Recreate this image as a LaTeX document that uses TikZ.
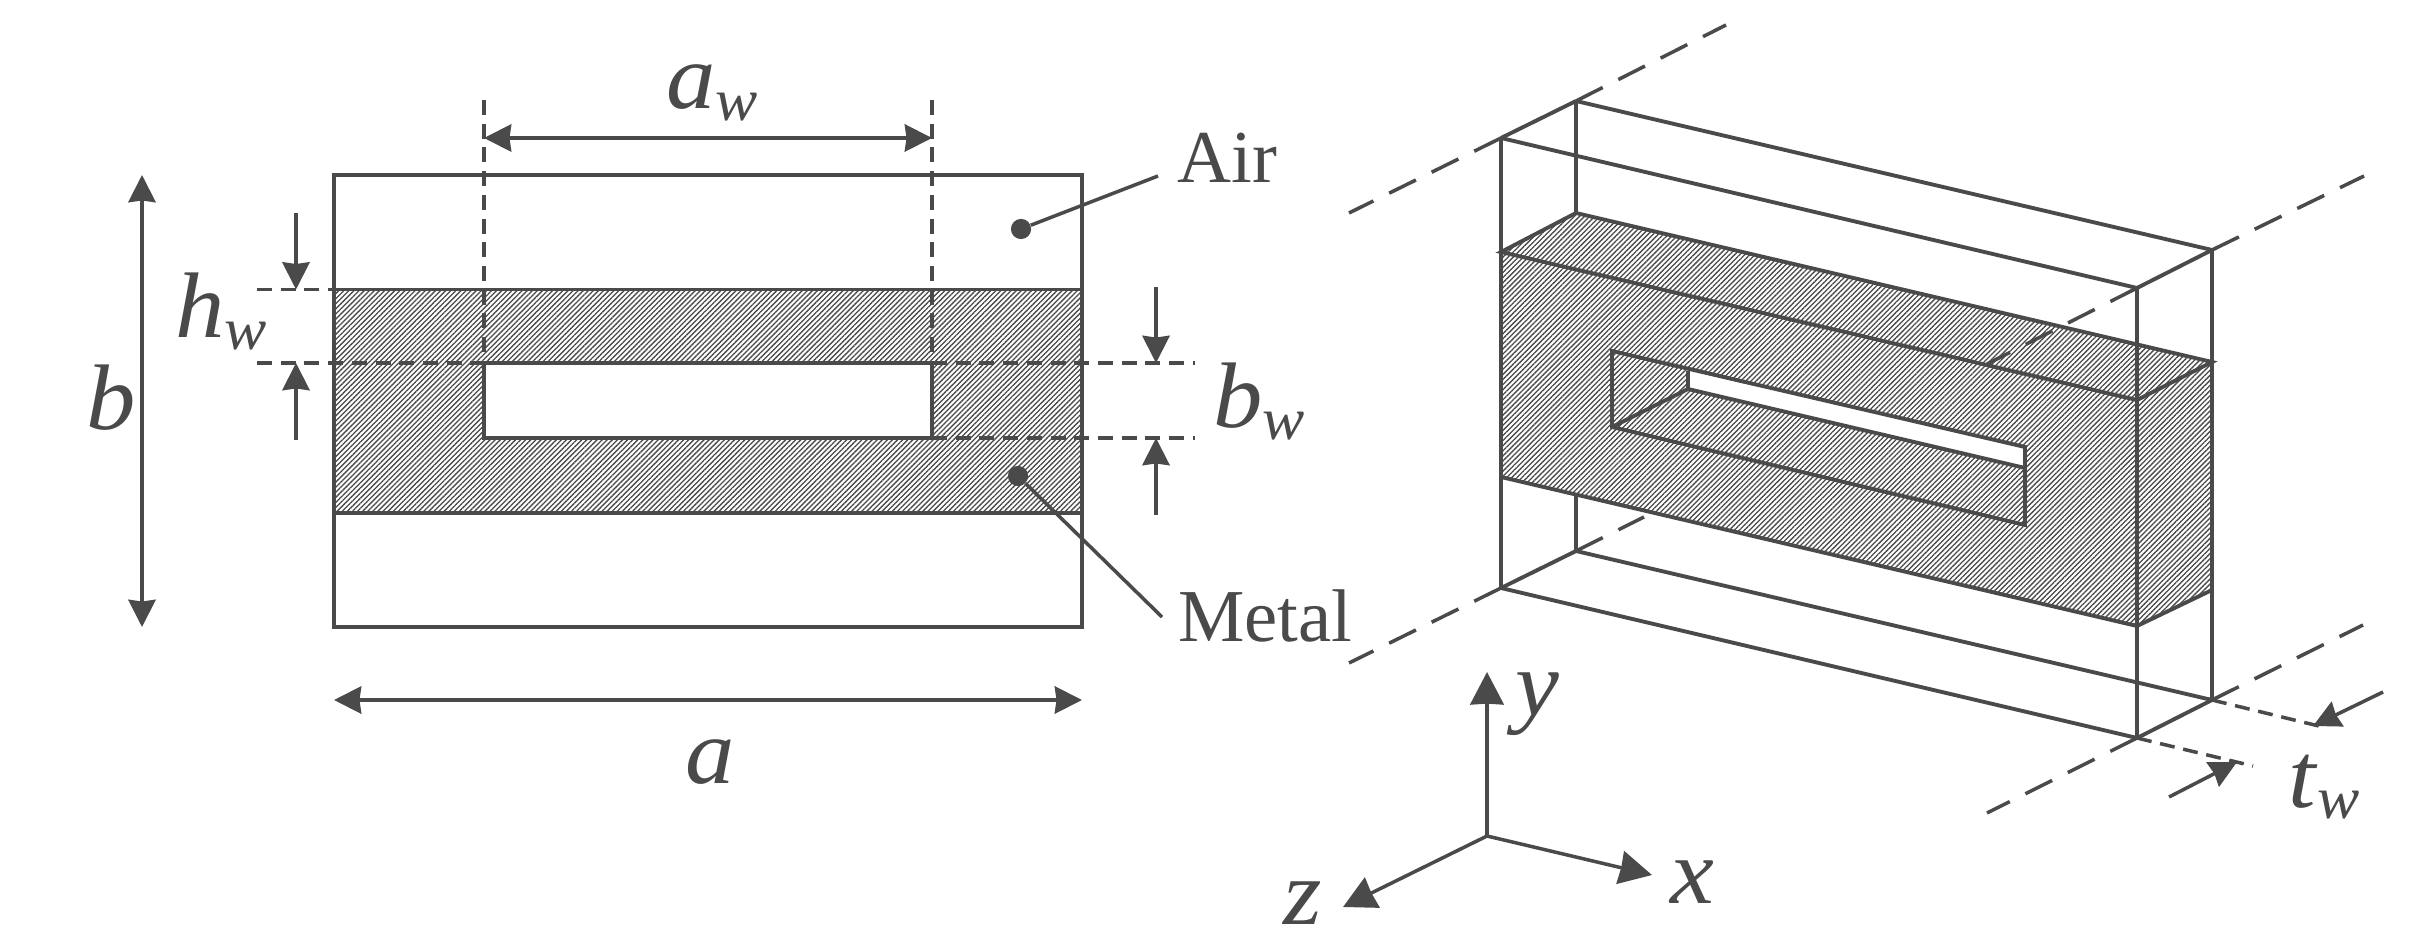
\documentclass[tikz,border=0pt]{standalone}
\usepackage{fontspec}
\setmainfont{Liberation Serif}
\newfontfamily\symfont[FakeStretch=1.06]{Liberation Serif}
\usepackage{xcolor}
\usepackage{tikz}
\usetikzlibrary{arrows.meta,patterns.meta}
\definecolor{inkgray}{HTML}{4A4A4A}
\newcommand{\dimsym}[2]{\textit{#1}\raisebox{-6.8pt}{\fontsize{34}{34}\selectfont\textit{#2}}}
\tikzset{
	outline/.style={draw=inkgray,line width=2.2pt},
	thinline/.style={draw=inkgray,line width=2pt},
	metal/.style={pattern={Lines[angle=45,distance=2.05pt,line width=0.75pt]},pattern color=inkgray},
	shortdash/.style={draw=inkgray,line width=2pt,dash pattern=on 8.5pt off 5pt},
	longdash/.style={draw=inkgray,line width=2pt,dash pattern=on 17pt off 10pt},
	dimarrow/.style={thinline,-{Stealth[length=15.5pt,width=15.5pt,inset=1pt]}},
	bothwayarrow/.style={thinline,{Stealth[length=15.5pt,width=15.5pt,inset=1pt]}-{Stealth[length=15.5pt,width=15.5pt,inset=1pt]}},
	axisarrow/.style={thinline,-{Stealth[length=18.5pt,width=19pt,inset=0.5pt]}},
	leaderdot/.style={circle,fill=inkgray,inner sep=0pt,minimum size=11.5pt},
	symbol/.style={anchor=base west,inner sep=0pt,text=inkgray,font=\symfont\fontsize{53}{53}\selectfont},
	word/.style={anchor=base west,inner sep=0pt,text=inkgray,font=\fontsize{42.5}{42.5}\selectfont}
}
\begin{document}
\begin{tikzpicture}[x=0.02cm,y=-0.02cm]
	\useasboundingbox (0,0) rectangle (2426,935);
	\fill[white] (0,0) rectangle (2426,935);

	\coordinate (lt) at (334,175);
	\coordinate (rb) at (1082,627);
	\coordinate (ml) at (334,289.5);
	\coordinate (mr) at (1082,289.5);
	\coordinate (nl) at (334,513);
	\coordinate (nr) at (1082,513);
	\coordinate (st) at (484,363);
	\coordinate (sb) at (932,438);
	\path[metal] (ml) rectangle (nr);
	\fill[white] (st) rectangle (sb);
	\draw[outline] (lt) rectangle (rb);
	\draw[outline] (ml) -- (mr);
	\draw[outline] (nl) -- (nr);
	\draw[outline] (st) rectangle (sb);

	\coordinate (awl) at (484,100);
	\coordinate (awr) at (932,100);
	\coordinate (awls) at (484,363);
	\coordinate (awrs) at (932,363);
	\coordinate (hwt) at (257,289.5);
	\coordinate (hwb) at (257,363);
	\coordinate (bwt) at (1195,363);
	\coordinate (bwb) at (1195,438);
	\coordinate (bws) at (932,438);
	\draw[shortdash] (awl) -- (awls);
	\draw[shortdash] (awr) -- (awrs);
	\draw[shortdash] (hwt) -- (ml);
	\draw[shortdash] (hwb) -- (st);
	\draw[shortdash] (awrs) -- (bwt);
	\draw[shortdash] (bws) -- (bwb);

	\coordinate (awa) at (484,138);
	\coordinate (awb) at (932,138);
	\coordinate (ba) at (142,175);
	\coordinate (bb) at (142,627);
	\coordinate (aa) at (334,700);
	\coordinate (ab) at (1082,700);
	\coordinate (hwu) at (296,213);
	\coordinate (hwv) at (296,289.5);
	\coordinate (hwx) at (296,440);
	\coordinate (hwy) at (296,363);
	\coordinate (bwu) at (1156,287);
	\coordinate (bwv) at (1156,363);
	\coordinate (bwx) at (1156,515);
	\coordinate (bwy) at (1156,438);
	\draw[bothwayarrow] (awa) -- (awb);
	\draw[bothwayarrow] (ba) -- (bb);
	\draw[bothwayarrow] (aa) -- (ab);
	\draw[dimarrow] (hwu) -- (hwv);
	\draw[dimarrow] (hwx) -- (hwy);
	\draw[dimarrow] (bwu) -- (bwv);
	\draw[dimarrow] (bwx) -- (bwy);

	\node[leaderdot] (airdot) at (1021,229) {};
	\node[leaderdot] (metaldot) at (1018,476) {};
	\coordinate (airend) at (1158,176);
	\coordinate (metalend) at (1162,617);
	\draw[thinline] (airdot) -- (airend);
	\draw[thinline] (metaldot) -- (metalend);
	\node[word] (airlabel) at (1177,183) {Air};
	\node[word] (metallabel) at (1178,641) {Metal};

	\node[symbol] (awlabel) at (666,109) {\dimsym{a}{w}};
	\node[symbol] (blabel) at (86,430) {\textit{b}};
	\node[symbol] (hwlabel) at (175,338) {\dimsym{h}{w}};
	\node[symbol] (bwlabel) at (1213,428) {\dimsym{b}{w}};
	\node[symbol] (alabel) at (685,783) {\textit{a}};

	\coordinate (ftl) at (1501,138);
	\coordinate (ftr) at (2137,288);
	\coordinate (fbl) at (1501,588);
	\coordinate (fbr) at (2137,738);
	\coordinate (btl) at (1576,101);
	\coordinate (btr) at (2212,250);
	\coordinate (bbl) at (1576,551);
	\coordinate (bbr) at (2212,700);
	\coordinate (mftl) at (1501,252);
	\coordinate (mftr) at (2137,400);
	\coordinate (mfbl) at (1501,477);
	\coordinate (mfbr) at (2137,626);
	\coordinate (mbtl) at (1576,213);
	\coordinate (mbtr) at (2212,362);
	\coordinate (mbbr) at (2212,590);
	\coordinate (mbbl) at (1576,495);
	\coordinate (wtl) at (1612,351);
	\coordinate (wbl) at (1612,427);
	\coordinate (wtr) at (2025,447);
	\coordinate (wbr) at (2025,525);
	\coordinate (wit) at (1688,371);
	\coordinate (wib) at (1688,389);
	\coordinate (wir) at (2025,468);

	\path[metal] (mftl) -- (mbtl) -- (mbtr) -- (mbbr) -- (mfbr) -- (mfbl) -- cycle;
	\fill[white] (wit) -- (wtr) -- (wir) -- (wib) -- cycle;

	\coordinate (dtla) at (1349,213);
	\coordinate (dtlb) at (1726,25);
	\coordinate (dtra) at (1987,364);
	\coordinate (dtrb) at (2364,176);
	\coordinate (dbla) at (1349,663);
	\coordinate (dblb) at (1644,517);
	\coordinate (dbra) at (1987,813);
	\coordinate (dbrb) at (2363,625);
	\draw[longdash] (ftl) -- (dtla);
	\draw[longdash] (btl) -- (dtlb);
	\draw[longdash] (ftr) -- (dtra);
	\draw[longdash] (btr) -- (dtrb);
	\draw[longdash] (fbl) -- (dbla);
	\draw[longdash] (bbl) -- (dblb);
	\draw[longdash] (fbr) -- (dbra);
	\draw[longdash] (bbr) -- (dbrb);

	\draw[outline] (ftl) -- (ftr);
	\draw[outline] (btl) -- (btr);
	\draw[outline] (fbl) -- (fbr);
	\draw[outline] (bbl) -- (bbr);
	\draw[outline] (ftl) -- (btl);
	\draw[outline] (ftr) -- (btr);
	\draw[outline] (fbl) -- (bbl);
	\draw[outline] (fbr) -- (bbr);
	\draw[outline] (ftl) -- (fbl);
	\draw[outline] (ftr) -- (fbr);
	\draw[outline] (btr) -- (bbr);
	\draw[outline] (btl) -- (mbtl);
	\draw[outline] (mbbl) -- (bbl);
	\draw[outline] (mftl) -- (mbtl) -- (mbtr) -- (mftr) -- cycle;
	\draw[outline] (mfbl) -- (mfbr) -- (mbbr);
	\draw[outline] (wtl) -- (wtr) -- (wbr) -- (wbl) -- cycle;
	\draw[outline] (wit) -- (wib) -- (wir);
	\draw[outline] (wib) -- (wbl);

	\coordinate (tdb) at (2253,766);
	\coordinate (tdd) at (2327,728);
	\draw[shortdash] (fbr) -- (tdb);
	\draw[shortdash] (bbr) -- (tdd);
	\coordinate (tua) at (2169,797);
	\coordinate (tub) at (2237,762);
	\coordinate (tuc) at (2383,692);
	\coordinate (tud) at (2313,726);
	\draw[dimarrow] (tua) -- (tub);
	\draw[dimarrow] (tuc) -- (tud);
	\node[symbol] (twlabel) at (2288,807) {\dimsym{t}{w}};

	\coordinate (orig) at (1487,836);
	\coordinate (yend) at (1487,672);
	\coordinate (xend) at (1652,875);
	\coordinate (zend) at (1343,907);
	\draw[axisarrow] (orig) -- (yend);
	\draw[axisarrow] (orig) -- (xend);
	\draw[axisarrow] (orig) -- (zend);
	\node[symbol] (ylabel) at (1515,715) {\textit{y}};
	\node[symbol] (xlabel) at (1670,903) {\textit{x}};
	\node[symbol,text depth=0pt] (zlabel) at (1283,924) {\textit{z}};
\end{tikzpicture}
\end{document}
